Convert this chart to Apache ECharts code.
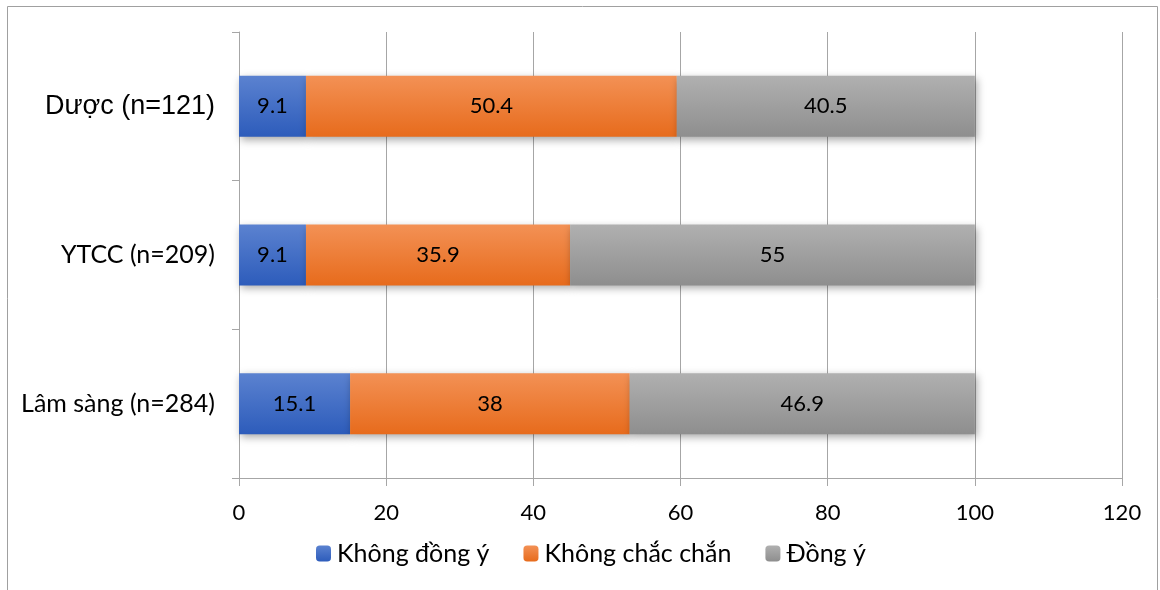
<!DOCTYPE html>
<html><head><meta charset="utf-8">
<script src="https://cdn.jsdelivr.net/npm/echarts@6/dist/echarts.min.js"></script>
<style>html,body{margin:0;padding:0;background:#fff}#c{width:1160px;height:590px}</style>
</head><body><div id="c"></div>
<script>
const categories = ['Lâm sàng (n=284)', 'YTCC (n=209)', 'Dược (n=121)'];
const khongDongY = [15.1, 9.1, 9.1];
const khongChacChan = [38, 35.9, 50.4];
const dongY = [46.9, 55, 40.5];
const seriesNames = ['Không đồng ý', 'Không chắc chắn', 'Đồng ý'];

function grad(top, bottom) {
  return new echarts.graphic.LinearGradient(0, 0, 0, 1, [
    {offset: 0, color: top}, {offset: 1, color: bottom}
  ]);
}
const colors = [grad('#5b82d0', '#2d5cbb'), grad('#f39155', '#e76b1c'), grad('#b0b0b0', '#8e8e8e')];
const legendColors = [grad('#5b82d0', '#2d5cbb'), grad('#f39155', '#e76b1c'), grad('#b0b0b0', '#8e8e8e')];
const font = 'Lato, Carlito, Calibri, sans-serif';
const arial = 'Liberation Sans, Arial, sans-serif';

const chart = echarts.init(document.getElementById('c'));
const dataSets = [khongDongY, khongChacChan, dongY];
chart.setOption({
  animation: false,
  textStyle: {fontFamily: font},
  graphic: [{type: 'rect', shape: {x: 7.5, y: 6.5, width: 1150, height: 600}, style: {fill: 'none', stroke: '#a0a0a0', lineWidth: 1}}],
  grid: {left: 239, right: 38, top: 32, bottom: 112, containLabel: false},
  legend: {
    bottom: 19, left: 311, itemWidth: 15, itemHeight: 16, itemGap: 34,
    textStyle: {fontSize: 25, color: '#000', fontFamily: font, padding: [0, 0, 0, 1]},
    data: seriesNames.map((n, i) => ({name: n, itemStyle: {color: legendColors[i]}}))
  },
  xAxis: {
    type: 'value', min: 0, max: 120, interval: 20,
    axisLine: {show: true, lineStyle: {color: '#a6a6a6'}},
    axisTick: {show: true, length: 8, lineStyle: {color: '#a6a6a6'}},
    splitLine: {show: true, lineStyle: {color: '#a6a6a6'}},
    axisLabel: {fontSize: 22, color: '#000', margin: 24, fontFamily: font}
  },
  yAxis: {
    type: 'category', data: categories,
    axisLine: {show: true, lineStyle: {color: '#a6a6a6'}},
    axisTick: {show: true, length: 7, lineStyle: {color: '#a6a6a6'}},
    axisLabel: {
      margin: 24,
      formatter: v => v.indexOf('Dược') === 0 ? '{a|' + v + '}' : '{c|' + v + '}',
      rich: {
        a: {fontSize: 27, color: '#000', fontFamily: arial},
        c: {fontSize: 25, color: '#000', fontFamily: font}
      }
    }
  },
  series: dataSets.map((d, i) => ({
    name: seriesNames[i], type: 'bar', stack: 'total', data: d, barWidth: '41%',
    itemStyle: {color: colors[i], shadowColor: 'rgba(0,0,0,0.35)', shadowBlur: 8, shadowOffsetY: 3, shadowOffsetX: 2},
    label: {show: true, position: 'inside', fontSize: 22, color: '#000', fontFamily: font}
  }))
});
</script></body></html>
